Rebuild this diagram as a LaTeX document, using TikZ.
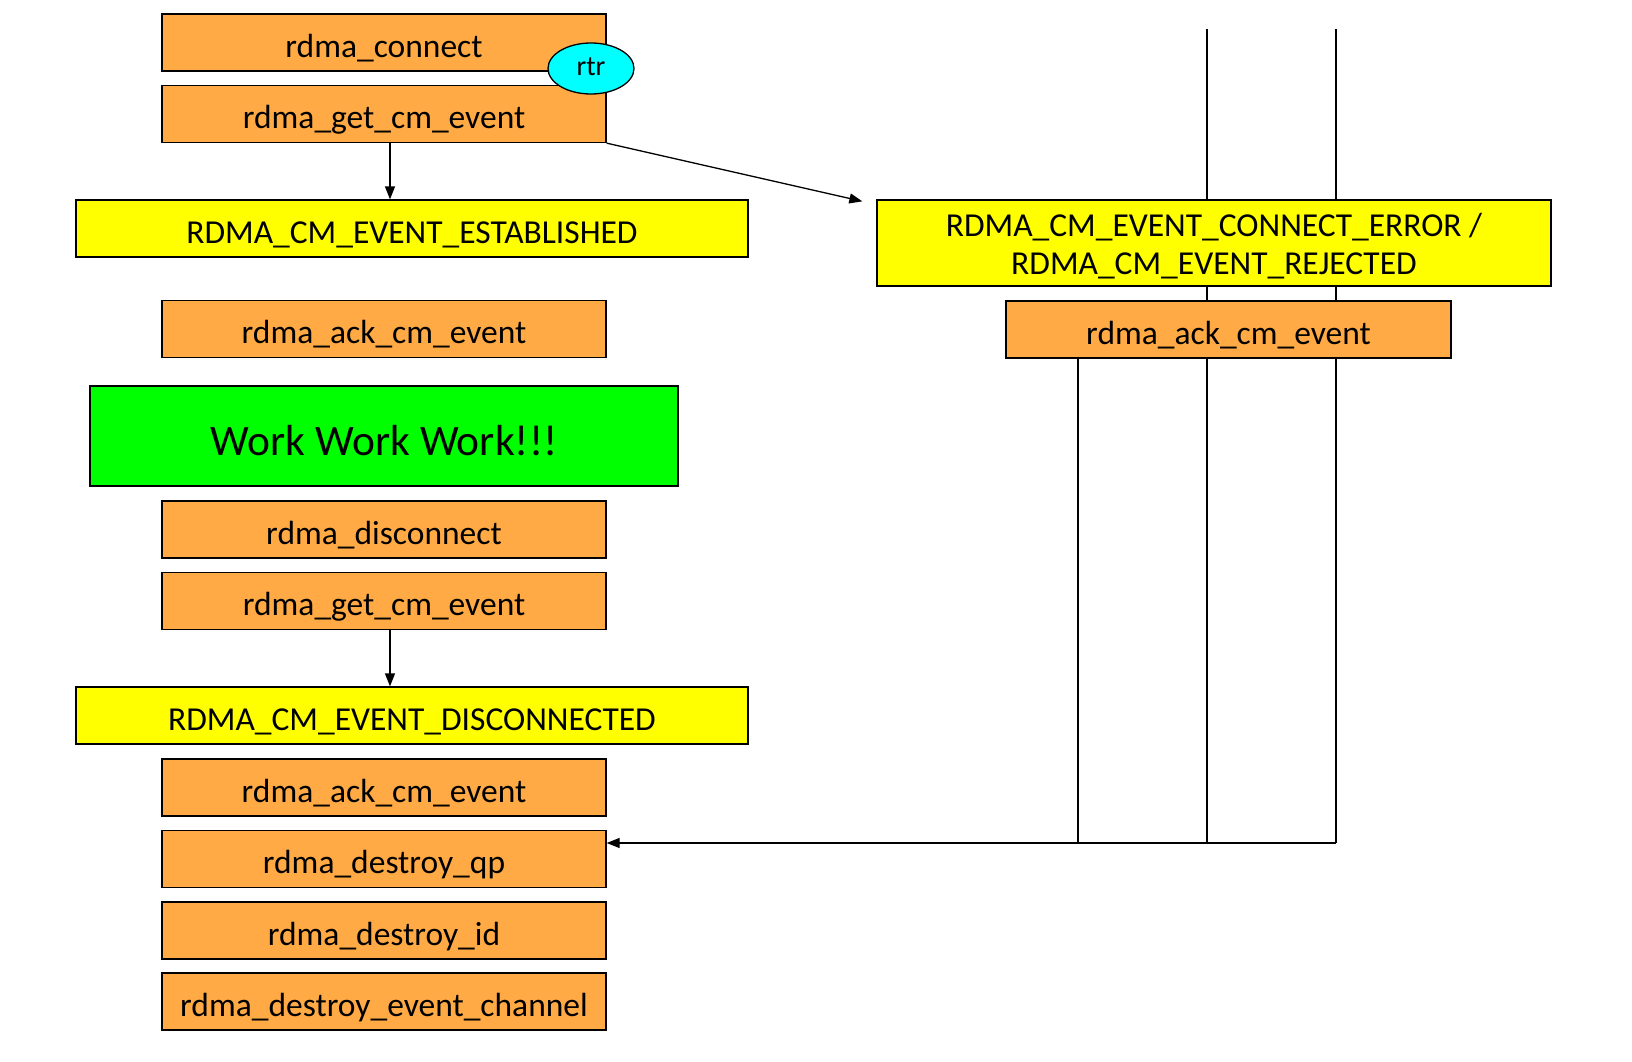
\documentclass[tikz,border=0pt]{standalone}
\usepackage{fontspec}
\setmainfont{Carlito}
\usetikzlibrary{arrows.meta,positioning,shapes.geometric}
\definecolor{callfill}{HTML}{FFAA44}
\definecolor{eventfill}{HTML}{FFFF00}
\definecolor{workfill}{HTML}{00FF00}
\definecolor{tagfill}{HTML}{00FFFF}

\begin{document}
\begin{tikzpicture}[
      x=1pt, y=-1pt,
      call/.style={draw, fill=callfill, line width=1.3pt, minimum width=444pt,
                   minimum height=57pt, inner sep=0pt,
                   font=\fontsize{33.5}{38}\selectfont,
                   text height=31pt, text depth=1.2pt},
      event/.style={call, fill=eventfill, minimum width=672pt, align=center},
      arr/.style={-{Triangle[length=13pt,width=10pt]}, line width=1.3pt},
      wire/.style={line width=1.3pt}
    ]
    \useasboundingbox (0,0) rectangle (1632,1062);

    % left column: the normal flow
    \node[call] (conn) at (384,42.5) {rdma\_connect};
    \node[call] (get1) at (384,114) {rdma\_get\_cm\_event};
    \node[draw, fill=tagfill, ellipse, line width=1.3pt, minimum width=86pt,
          minimum height=51pt, inner sep=0pt, text depth=4pt,
          font=\fontsize{28}{30}\selectfont] (rtr) at (591,68.5) {rtr};
    \node[event] (est) at (412,228.5) {RDMA\_CM\_EVENT\_ESTABLISHED};
    \node[call] (ack1) at (384,329) {rdma\_ack\_cm\_event};
    \node[call, fill=workfill, minimum width=588pt, minimum height=100pt,
          font=\fontsize{43.5}{48}\selectfont, text height=38.5pt, text depth=0pt]
      (work) at (384,436) {Work Work Work!!!};
    \node[call] (disc) at (384,529.5) {rdma\_disconnect};
    \node[call] (get2) at (384,601) {rdma\_get\_cm\_event};
    \node[event] (dconn) at (412,715.5) {RDMA\_CM\_EVENT\_DISCONNECTED};
    \node[call] (ack2) at (384,787.5) {rdma\_ack\_cm\_event};
    \node[call] (dqp) at (384,859) {rdma\_destroy\_qp};
    \node[call] (did) at (384,930.5) {rdma\_destroy\_id};
    \node[call] (dch) at (384,1001.5) {rdma\_destroy\_event\_channel};

    % right column: the error path
    \node[event, minimum width=674pt, minimum height=86pt, text height=66pt,
          text depth=3.7pt] (err) at (1214,243)
      {RDMA\_CM\_EVENT\_CONNECT\_ERROR /\\RDMA\_CM\_EVENT\_REJECTED};
    \node[call, minimum width=445pt] (ackr) at (1228.5,329.5) {rdma\_ack\_cm\_event};

    \coordinate (t1) at (1207,29);
    \coordinate (t2) at (1336,29);
    \coordinate (b0) at (1078,843);
    \coordinate (b1) at (1207,843);
    \coordinate (b2) at (1336,843);

    \draw[arr] ([xshift=6pt]get1.south) -- ([xshift=6pt]get1.south |- est.north);
    \draw[arr] (get1.south east) -- ([xshift=-14pt,yshift=-2pt]err.north west);
    \draw[arr] ([xshift=6pt]get2.south) -- ([xshift=6pt]get2.south |- dconn.north);

    \draw[wire] (t1) -- (t1 |- err.north);
    \draw[wire] (t1 |- err.south) -- (t1 |- ackr.north);
    \draw[wire] (t1 |- ackr.south) -- (b1);
    \draw[wire] (t2) -- (t2 |- err.north);
    \draw[wire] (t2 |- err.south) -- (t2 |- ackr.north);
    \draw[wire] (t2 |- ackr.south) -- (b2);
    \draw[wire] (b0 |- ackr.south) -- (b0);
    \draw[arr] (b2) -- (dqp.east |- b2);
  \end{tikzpicture}
\end{document}
